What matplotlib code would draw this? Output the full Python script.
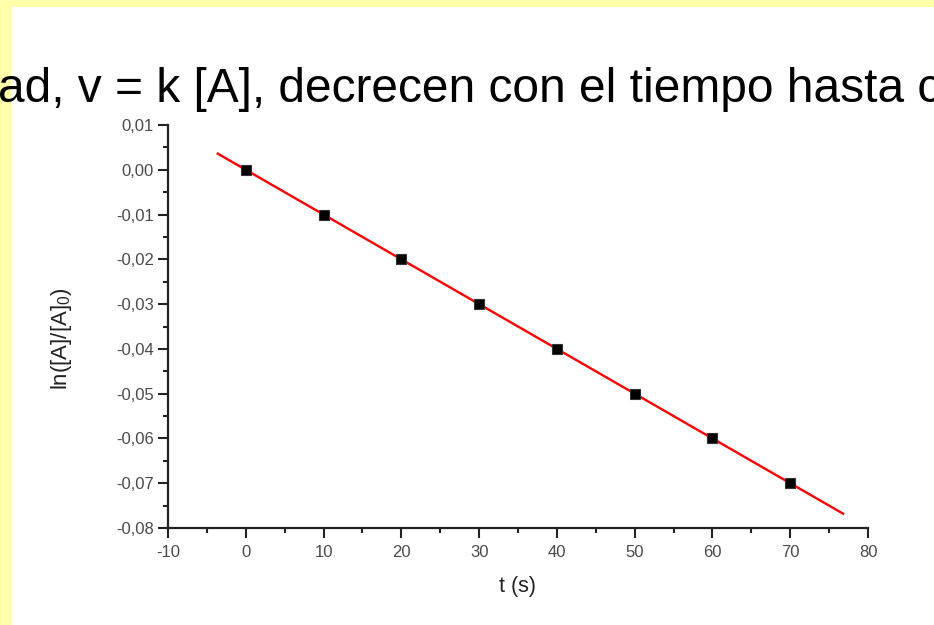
import matplotlib
matplotlib.use("Agg")
import matplotlib.pyplot as plt
from matplotlib.patches import Rectangle
from matplotlib.ticker import MultipleLocator, FuncFormatter
import numpy as np

plt.rcParams['font.family'] = ['Liberation Sans', 'DejaVu Sans']
plt.rcParams['mathtext.fontset'] = 'custom'
plt.rcParams['mathtext.rm'] = 'Liberation Sans'
plt.rcParams['mathtext.it'] = 'Liberation Sans'

t = [0, 10, 20, 30, 40, 50, 60, 70]
ln_ratio = [0.0, -0.01, -0.02, -0.03, -0.04, -0.05, -0.06, -0.07]
fit_range = [-3.6, 76.8]
header = "ad, v = k [A], decrecen con el tiempo hasta c"

W, H = 934, 625
fig = plt.figure(figsize=(W / 100, H / 100), dpi=100)
fig.patch.set_facecolor('#FFFFAA')
fig.patches.append(Rectangle((11 / W, 0), 1, 1 - 7 / H, transform=fig.transFigure,
                             facecolor='white', edgecolor='none', zorder=-5))

fig.text(-2 / W, 1 - 102 / H, header, fontsize=34.5, color='black',
         ha='left', va='baseline')

ax = fig.add_axes([168 / W, 1 - 528 / H, 700 / W, 403 / H])
ax.set_facecolor('none')
ax.set_zorder(2)

coef = np.polyfit(t, ln_ratio, 1)
xf = np.array(fit_range)
ax.plot(xf, np.polyval(coef, xf), color='#FF0000', lw=1.7, zorder=2)
ax.plot(t, ln_ratio, 's', color='black', markersize=7.2, markeredgecolor='#333333',
        markeredgewidth=0.8, zorder=3)

ax.set_xlim(-10, 80)
ax.set_ylim(-0.08, 0.01)
ax.xaxis.set_major_locator(MultipleLocator(10))
ax.xaxis.set_minor_locator(MultipleLocator(5))
ax.yaxis.set_major_locator(MultipleLocator(0.01))
ax.yaxis.set_minor_locator(MultipleLocator(0.005))
ax.yaxis.set_major_formatter(FuncFormatter(lambda v, p: f"{v:.2f}".replace('.', ',').replace('-0,00', '0,00')))
ax.xaxis.set_major_formatter(FuncFormatter(lambda v, p: f"{v:.0f}"))

for s in ['top', 'right']:
    ax.spines[s].set_visible(False)
for s in ['left', 'bottom']:
    ax.spines[s].set_linewidth(1.6)
    ax.spines[s].set_color('#222222')

ax.tick_params(which='major', direction='out', length=7.2, width=1.5, colors='#222222',
               labelsize=12, labelcolor='#4a4a4a', pad=3)
ax.tick_params(axis='x', which='major', pad=5)
ax.tick_params(which='minor', direction='out', length=3.6, width=1.5, colors='#222222')

ax.set_xlabel('t (s)', fontsize=15.5, color='#222222')
ax.set_ylabel('ln([A]/[A]$_0$)', fontsize=16, color='#222222')
ax.xaxis.set_label_coords(0.499, -0.118)
ax.yaxis.set_label_coords(-0.135, 0.47)

fig.savefig('out.png', dpi=100)
